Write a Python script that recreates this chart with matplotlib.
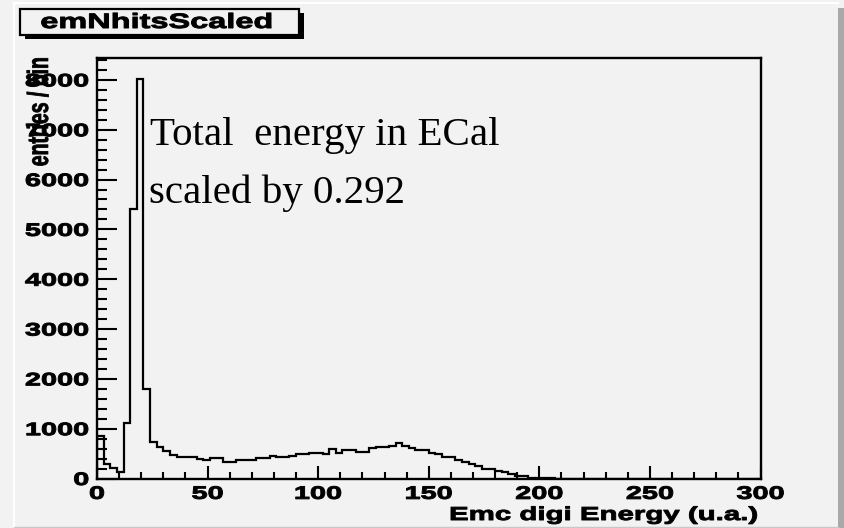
import numpy as np
import matplotlib
matplotlib.use("Agg")
import matplotlib.pyplot as plt
from matplotlib.patheffects import AbstractPathEffect
from matplotlib.transforms import Affine2D
from matplotlib.patches import Rectangle
from matplotlib.lines import Line2D
from matplotlib.ticker import MultipleLocator

# ---- histogram contents: 100 bins of width 3 between 0 and 300 ----
x_min, x_max, n_bins = 0.0, 300.0, 100
counts = [
    850, 300, 210, 140, 1120, 5400, 8020, 1800, 740, 640,
    560, 480, 440, 425, 425, 400, 380, 420, 420, 330,
    330, 370, 370, 375, 420, 420, 460, 440, 440, 450,
    490, 490, 505, 505, 490, 600, 520, 570, 570, 540,
    540, 620, 640, 640, 650, 720, 660, 620, 580, 580,
    505, 500, 440, 440, 380, 330, 300, 250, 200, 190,
    155, 130, 100, 55, 50, 20, 15, 15, 5, 0,
] + [0] * 30

hist_name = "emNhitsScaled"
x_title = "Emc digi Energy (u.a.)"
y_title = "entries / bin"
note_lines = ["Total  energy in ECal", "scaled by 0.292"]
x_ticks = [0, 50, 100, 150, 200, 250, 300]
y_ticks = [0, 1000, 2000, 3000, 4000, 5000, 6000, 7000, 8000]
y_top = 8440

W, H = 844, 528
BG = "#f2f2f2"


class WideText(AbstractPathEffect):
    """Stretch glyph outlines horizontally about an anchor of their extent,
    with a thin outline to give the heavier look of the canvas font."""

    def __init__(self, sx=1.6, anchor="center", stroke=0.5):
        super().__init__()
        self.sx = sx
        self.anchor = anchor
        self.stroke = stroke

    def draw_path(self, renderer, gc, tpath, affine, rgbFace=None):
        ext = tpath.get_extents(affine)
        if self.anchor == "right":
            x0 = ext.x1
        elif self.anchor == "left":
            x0 = ext.x0
        else:
            x0 = 0.5 * (ext.x0 + ext.x1)
        stretched = affine + Affine2D().translate(-x0, 0).scale(self.sx, 1.0).translate(x0, 0)
        gc0 = renderer.new_gc()
        gc0.copy_properties(gc)
        if rgbFace is not None and self.stroke > 0:
            gc0.set_foreground(rgbFace)
            gc0.set_linewidth(self.stroke)
            gc0.set_joinstyle("round")
        renderer.draw_path(gc0, tpath, stretched, rgbFace)
        gc0.restore()


def fx(px):
    return px / W


def fy(py):
    return 1.0 - py / H


plt.rcParams["font.family"] = ["Liberation Sans", "DejaVu Sans"]

fig = plt.figure(figsize=(W / 100, H / 100), dpi=100, facecolor=BG)

# canvas bevel
fig.add_artist(Line2D([fx(14), fx(838)], [fy(3), fy(3)], transform=fig.transFigure,
                      color="white", lw=1.5))
fig.add_artist(Line2D([fx(14), fx(14)], [fy(3), fy(527)], transform=fig.transFigure,
                      color="white", lw=1.5))
fig.add_artist(Rectangle((fx(838), fy(528)), fx(844) - fx(838), fy(8) - fy(528),
                         transform=fig.transFigure, facecolor="#a9a9a9", edgecolor="none"))
fig.add_artist(Line2D([fx(14), fx(838)], [fy(527), fy(527)], transform=fig.transFigure,
                      color="#c8c8c8", lw=1.0))

ax = fig.add_axes([fx(97), fy(478.5), fx(760.5) - fx(97), fy(58) - fy(478.5)])
ax.set_facecolor(BG)

edges = np.linspace(x_min, x_max, n_bins + 1)
ax.stairs(counts, edges, color="black", lw=1.6)

ax.set_xlim(x_min, x_max)
ax.set_ylim(0, y_top)
ax.set_xticks(x_ticks)
ax.set_yticks(y_ticks)
ax.xaxis.set_minor_locator(MultipleLocator(10))
ax.yaxis.set_minor_locator(MultipleLocator(200))

for s in ax.spines.values():
    s.set_linewidth(1.7)
    s.set_color("black")

ax.tick_params(axis="x", which="major", direction="in", length=9.4, width=1.5,
               labelsize=13, pad=5.3, top=False)
ax.tick_params(axis="x", which="minor", direction="in", length=5, width=1.5, top=False)
ax.tick_params(axis="y", which="major", direction="in", length=14.4, width=1.5,
               labelsize=13, pad=5.8, right=False)
ax.tick_params(axis="y", which="minor", direction="in", length=7.2, width=1.5, right=False)

for lbl in ax.get_xticklabels():
    lbl.set_fontweight("bold")
    lbl.set_path_effects([WideText(1.6, "center", 0.7)])
for lbl in ax.get_yticklabels():
    lbl.set_fontweight("bold")
    lbl.set_path_effects([WideText(1.6, "right", 0.7)])

# axis titles
fig.text(fx(757), fy(520), x_title, ha="right", va="baseline", fontsize=13.5,
         fontweight="bold", path_effects=[WideText(1.57, "right", 0.7)])
fig.text(fx(40), fy(57), y_title, ha="center", va="top", rotation=90, fontsize=14,
         fontweight="bold", path_effects=[WideText(1.5, "center", 0.6)])

# histogram name box with drop shadow
box_l, box_r, box_t, box_b = 20, 299, 9.5, 35
fig.add_artist(Rectangle((fx(box_l + 5), fy(box_b + 3.5)), fx(box_r - box_l), fy(box_t) - fy(box_b),
                         transform=fig.transFigure, facecolor="black", edgecolor="none"))
fig.add_artist(Rectangle((fx(box_l), fy(box_b)), fx(box_r - box_l), fy(box_t) - fy(box_b),
                         transform=fig.transFigure, facecolor=BG, edgecolor="black", lw=1.6))
fig.text(fx(157), fy(22.5), hist_name, ha="center", va="center", fontsize=15,
         fontweight="bold", path_effects=[WideText(1.56, "center", 0.7)])

# annotation
fig.text(fx(150), fy(145), note_lines[0], ha="left", va="baseline", fontsize=29.5,
         family="Liberation Serif")
fig.text(fx(149), fy(203), note_lines[1], ha="left", va="baseline", fontsize=29.5,
         family="Liberation Serif")

fig.savefig("out.png", dpi=100, facecolor=BG)
